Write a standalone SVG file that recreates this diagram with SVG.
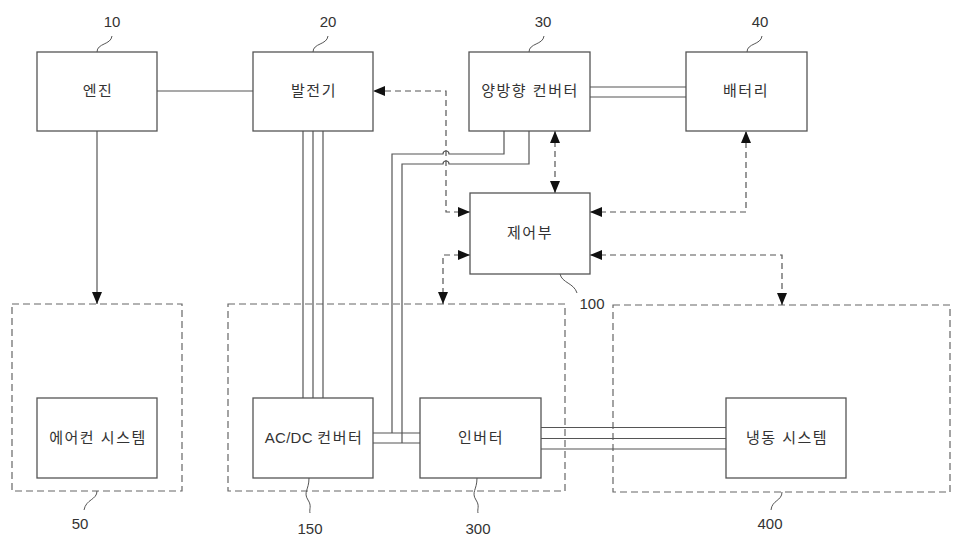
<svg xmlns="http://www.w3.org/2000/svg" width="957" height="539" viewBox="0 0 957 539">
<defs>
<style>
.box{fill:#fff;stroke:#555;stroke-width:1.3}
.grp{fill:none;stroke:#666;stroke-width:1.2;stroke-dasharray:7 4}
.ln{fill:none;stroke:#555;stroke-width:1.2}
.dl{fill:none;stroke:#555;stroke-width:1.2;stroke-dasharray:6 4}
.ld{fill:none;stroke:#555;stroke-width:1}
.lbl{font-family:"Liberation Sans","Noto Sans CJK KR",sans-serif;font-size:15px;letter-spacing:1.5px;fill:#333;text-anchor:middle}
.num{font-family:"Liberation Sans","Noto Sans",sans-serif;font-size:15px;fill:#333;text-anchor:middle}
</style>
<marker id="ah" viewBox="0 0 12 10" refX="12" refY="5" markerWidth="12" markerHeight="10" markerUnits="userSpaceOnUse" orient="auto-start-reverse">
<path d="M0,0 L12,5 L0,10 z" fill="#111"/>
</marker>
</defs>
<rect width="957" height="539" fill="#fff"/>

<g id="group-50">
<rect class="grp" x="12" y="304" width="170" height="187"/>
<path class="ld" d="M97,491 C97,500 86,499 84,510"/>
<text class="num" x="80" y="529">50</text>
</g>
<g id="group-300">
<rect class="grp" x="228" y="304" width="337" height="187"/>
</g>
<g id="group-400">
<rect class="grp" x="613" y="305" width="337" height="187"/>
<path class="ld" d="M782,492 C782,501 772,500 771,510"/>
<text class="num" x="770" y="529">400</text>
</g>

<g id="connectors">
<line class="ln" x1="157" y1="91" x2="253" y2="91"/>
<line class="ln" x1="97" y1="131" x2="97" y2="304" marker-end="url(#ah)"/>
<path class="ln" d="M303,131 V398 M313,131 V398 M323,131 V398"/>
<path class="ln" d="M590,87 H686 M590,97 H686"/>
<path class="ln" d="M504,131 V154 H449 A3,3 0 0 0 443,154 H392 V433"/>
<path class="ln" d="M529,131 V164 H449 A3,3 0 0 0 443,164 H402 V443"/>
<path class="ln" d="M373,433 H420 M373,443 H420"/>
<path class="ln" d="M541,427.5 H726 M541,438.5 H726 M541,449 H726"/>
<path class="dl" d="M470,212 H446 V91 H373" marker-start="url(#ah)" marker-end="url(#ah)"/>
<path class="dl" d="M555,131 V193" marker-start="url(#ah)" marker-end="url(#ah)"/>
<path class="dl" d="M590,212 H746 V131" marker-start="url(#ah)" marker-end="url(#ah)"/>
<path class="dl" d="M470,255 H443 V304" marker-start="url(#ah)" marker-end="url(#ah)"/>
<path class="dl" d="M590,255 H782 V305" marker-start="url(#ah)" marker-end="url(#ah)"/>
</g>

<g id="node-10">
<rect class="box" x="37" y="52" width="120" height="79"/>
<text class="lbl" x="98" y="96">엔진</text>
<path class="ld" d="M97,52 C97,43 111,45 112,36"/>
<text class="num" x="112" y="27">10</text>
</g>
<g id="node-20">
<rect class="box" x="253" y="52" width="120" height="79"/>
<text class="lbl" x="314" y="96">발전기</text>
<path class="ld" d="M313,52 C313,43 327,45 328,36"/>
<text class="num" x="328" y="27">20</text>
</g>
<g id="node-30">
<rect class="box" x="469" y="52" width="121" height="79"/>
<text class="lbl" x="530" y="96">양방향 컨버터</text>
<path class="ld" d="M529,52 C529,43 543,45 544,36"/>
<text class="num" x="543" y="27">30</text>
</g>
<g id="node-40">
<rect class="box" x="686" y="52" width="121" height="79"/>
<text class="lbl" x="746" y="96">배터리</text>
<path class="ld" d="M747,52 C747,43 761,45 762,36"/>
<text class="num" x="760" y="27">40</text>
</g>
<g id="node-100">
<rect class="box" x="470" y="193" width="120" height="81"/>
<text class="lbl" x="530" y="238">제어부</text>
<path class="ld" d="M560,274 C562,283 574,283 577,293"/>
<text class="num" x="592" y="309">100</text>
</g>
<g id="node-aircon">
<rect class="box" x="37" y="398" width="120" height="80"/>
<text class="lbl" x="98" y="443">에어컨 시스템</text>
</g>
<g id="node-150">
<rect class="box" x="253" y="398" width="120" height="80"/>
<text class="lbl" x="314" y="443"><tspan style="letter-spacing:0.3px">AC/DC </tspan>컨버터</text>
<path class="ld" d="M309,478 C309,490 303,492 308,500 C312,506 309,509 310,513"/>
<text class="num" x="310" y="534">150</text>
</g>
<g id="node-300">
<rect class="box" x="420" y="398" width="121" height="80"/>
<text class="lbl" x="481" y="443">인버터</text>
<path class="ld" d="M477,478 C477,490 471,492 476,500 C480,506 477,509 478,513"/>
<text class="num" x="478" y="534">300</text>
</g>
<g id="node-refrig">
<rect class="box" x="726" y="398" width="120" height="80"/>
<text class="lbl" x="787" y="443">냉동 시스템</text>
</g>
</svg>
